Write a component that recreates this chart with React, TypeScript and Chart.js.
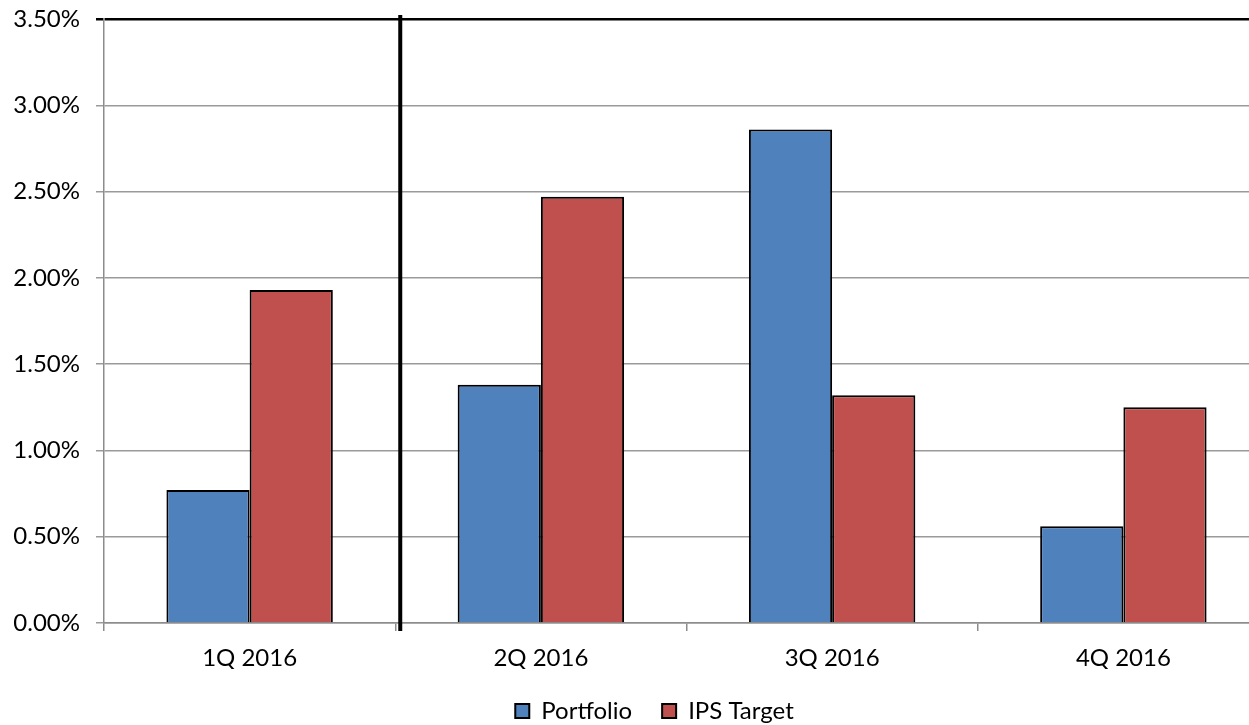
import React, { useEffect, useRef } from "react";
import { Chart, registerables } from "chart.js";

Chart.register(...registerables);

const quarters = ["1Q 2016", "2Q 2016", "3Q 2016", "4Q 2016"];
const portfolio = [0.77, 1.38, 2.86, 0.56];
const ipsTarget = [1.93, 2.47, 1.32, 1.25];
const yMax = 3.5;
const yStep = 0.5;

const FONT = "Lato, 'Open Sans', sans-serif";
const FONT_SIZE = 24;
const LEGEND_SHIFT = 20;

// vertical separator between the first quarter and the rest
const separatorPlugin = {
  id: "separator",
  afterDatasetsDraw(chart: any) {
    const x = chart.scales.x;
    const area = chart.chartArea;
    const px = (x.getPixelForValue(0) + x.getPixelForValue(1)) / 2 + 5;
    const ctx = chart.ctx;
    ctx.save();
    ctx.strokeStyle = "#000";
    ctx.lineWidth = 4;
    ctx.beginPath();
    ctx.moveTo(px, area.top - 4);
    ctx.lineTo(px, area.bottom + 8);
    ctx.stroke();
    ctx.restore();
  },
};

// nudge the legend box sideways after layout
const legendShiftPlugin = {
  id: "legendShift",
  afterLayout(chart: any) {
    const lg = chart.legend;
    if (lg) {
      lg.left += LEGEND_SHIFT;
      lg.right += LEGEND_SHIFT;
    }
  },
};

export default function App() {
  const ref = useRef<HTMLCanvasElement>(null);

  useEffect(() => {
    document.body.style.margin = "0";
    const chart = new Chart(ref.current!, {
      type: "bar",
      data: {
        labels: quarters,
        datasets: [
          {
            label: "Portfolio",
            data: portfolio,
            backgroundColor: "#4F81BD",
            borderColor: "#000",
            borderWidth: 2,
          },
          {
            label: "IPS Target",
            data: ipsTarget,
            backgroundColor: "#C0504D",
            borderColor: "#000",
            borderWidth: 2,
          },
        ],
      },
      options: {
        responsive: false,
        animation: false,
        layout: { padding: { top: 19, left: 0, right: 5, bottom: -8 } },
        datasets: {
          bar: { categoryPercentage: 2 / 3.5, barPercentage: 1 },
        },
        scales: {
          x: {
            grid: {
              offset: true,
              drawOnChartArea: false,
              color: "#8c8c8c",
              lineWidth: 1.5,
              tickLength: 8,
            },
            border: { color: "#8c8c8c", width: 1.5 },
            ticks: {
              color: "#000",
              font: { family: FONT, size: FONT_SIZE },
              padding: 13,
            },
            afterFit: (s: any) => {
              s.height = 46;
              s.paddingLeft = 0;
              s.paddingRight = 0;
            },
          },
          y: {
            min: 0,
            max: yMax,
            ticks: {
              stepSize: yStep,
              color: "#000",
              padding: 16,
              font: { family: FONT, size: FONT_SIZE },
              callback: (v: any) => Number(v).toFixed(2) + "%",
            },
            grid: {
              color: (c: any) => (c.tick && c.tick.value === yMax ? "#000" : "#9a9a9a"),
              lineWidth: (c: any) => (c.tick && c.tick.value === yMax ? 2.5 : 1.5),
              tickLength: 8,
            },
            border: { color: "#8c8c8c", width: 1.5 },
            afterFit: (s: any) => {
              s.width = 104;
              s.paddingTop = 0;
              s.paddingBottom = 0;
            },
          },
        },
        plugins: {
          legend: {
            position: "bottom",
            labels: {
              color: "#000",
              font: { family: FONT, size: FONT_SIZE },
              boxWidth: 14,
              boxHeight: 14,
              padding: 30,
            },
          },
          tooltip: { enabled: false },
        },
      },
      plugins: [separatorPlugin, legendShiftPlugin],
    });
    return () => chart.destroy();
  }, []);

  return (
    <div style={{ width: 1249, height: 725, overflow: "hidden", background: "#fff" }}>
      <canvas ref={ref} width={1274} height={725} />
    </div>
  );
}
